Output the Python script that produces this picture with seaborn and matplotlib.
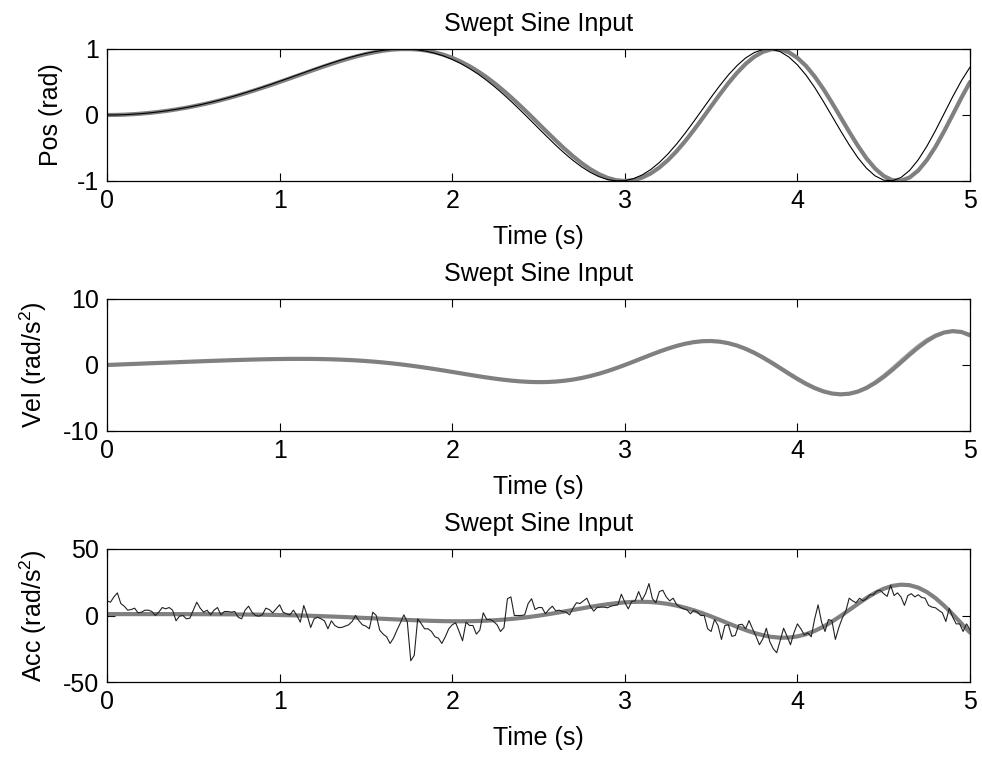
import numpy as np
import pandas as pd
import matplotlib
matplotlib.use("Agg")
import matplotlib.pyplot as plt
import seaborn as sns

# ---------------- data ----------------
t_s = np.linspace(0, 5, 101)     # 0.05 s grid for the smooth curves
t_n = np.linspace(0, 5, 251)     # 0.02 s grid for the measured acceleration

pos_ref = [0.000, 0.001, 0.005, 0.012, 0.021, 0.033, 0.047, 0.064, 0.084, 0.106,
           0.131, 0.158, 0.187, 0.219, 0.254, 0.290, 0.329, 0.369, 0.412, 0.455,
           0.500, 0.546, 0.592, 0.638, 0.685, 0.730, 0.774, 0.816, 0.855, 0.892,
           0.924, 0.951, 0.974, 0.990, 0.998, 0.999, 0.992, 0.976, 0.949, 0.913,
           0.866, 0.808, 0.740, 0.660, 0.571, 0.471, 0.363, 0.247, 0.125, -0.001,
           -0.131, -0.260, -0.387, -0.510, -0.625, -0.730, -0.821, -0.896, -0.953, -0.988,
           -1.000, -0.987, -0.949, -0.886, -0.796, -0.684, -0.549, -0.396, -0.228, -0.051,
           0.131, 0.310, 0.482, 0.638, 0.774, 0.882, 0.957, 0.996, 0.994, 0.951,
           0.866, 0.743, 0.584, 0.396, 0.187, -0.033, -0.254, -0.465, -0.655, -0.811,
           -0.924, -0.988, -0.996, -0.947, -0.842, -0.683, -0.482, -0.247, 0.005, 0.260,
           0.500]

pos_meas = [0.000, 0.001, 0.005, 0.012, 0.021, 0.033, 0.048, 0.065, 0.086, 0.108,
            0.133, 0.161, 0.191, 0.224, 0.259, 0.296, 0.336, 0.377, 0.420, 0.464,
            0.510, 0.556, 0.603, 0.650, 0.696, 0.742, 0.786, 0.828, 0.867, 0.902,
            0.933, 0.960, 0.980, 0.994, 1.000, 0.998, 0.987, 0.966, 0.936, 0.894,
            0.842, 0.779, 0.704, 0.620, 0.524, 0.419, 0.306, 0.185, 0.059, -0.070,
            -0.201, -0.331, -0.458, -0.578, -0.688, -0.786, -0.869, -0.934, -0.978, -0.998,
            -0.995, -0.965, -0.909, -0.827, -0.720, -0.590, -0.440, -0.274, -0.097, 0.086,
            0.268, 0.444, 0.607, 0.748, 0.864, 0.946, 0.992, 0.997, 0.960, 0.880,
            0.760, 0.604, 0.418, 0.207, -0.015, -0.238, -0.452, -0.646, -0.806, -0.922,
            -0.987, -0.996, -0.947, -0.840, -0.679, -0.474, -0.236, 0.021, 0.278, 0.518,
            0.725]

vel_ref = [0.000, 0.052, 0.105, 0.157, 0.209, 0.262, 0.314, 0.366, 0.417, 0.469,
           0.519, 0.569, 0.617, 0.664, 0.709, 0.752, 0.791, 0.827, 0.859, 0.886,
           0.907, 0.921, 0.928, 0.927, 0.916, 0.895, 0.863, 0.818, 0.759, 0.687,
           0.601, 0.501, 0.382, 0.250, 0.103, -0.060, -0.236, -0.425, -0.625, -0.833,
           -1.047, -1.263, -1.479, -1.691, -1.892, -2.078, -2.244, -2.384, -2.493, -2.566,
           -2.596, -2.578, -2.510, -2.387, -2.207, -1.969, -1.674, -1.323, -0.926, -0.478,
           0.000, 0.504, 1.019, 1.532, 2.026, 2.483, 2.888, 3.222, 3.466, 3.608,
           3.634, 3.534, 3.304, 2.942, 2.455, 1.851, 1.150, 0.374, -0.448, -1.284,
           -2.094, -2.840, -3.485, -3.990, -4.320, -4.448, -4.355, -4.034, -3.482, -2.728,
           -1.803, -0.737, 0.406, 1.562, 2.656, 3.634, 4.405, 4.921, 5.131, 5.005,
           4.534]

vel_meas = [0.000, 0.053, 0.106, 0.158, 0.211, 0.264, 0.317, 0.369, 0.421, 0.472,
            0.523, 0.573, 0.621, 0.668, 0.713, 0.755, 0.794, 0.829, 0.861, 0.889,
            0.913, 0.926, 0.932, 0.930, 0.917, 0.894, 0.860, 0.814, 0.755, 0.679,
            0.591, 0.489, 0.366, 0.230, 0.079, -0.087, -0.267, -0.459, -0.663, -0.874,
            -1.091, -1.312, -1.528, -1.739, -1.938, -2.122, -2.285, -2.422, -2.524, -2.588,
            -2.609, -2.579, -2.491, -2.358, -2.161, -1.910, -1.601, -1.225, -0.818, -0.358,
            0.134, 0.647, 1.168, 1.682, 2.172, 2.620, 3.008, 3.319, 3.537, 3.645,
            3.633, 3.491, 3.215, 2.808, 2.274, 1.631, 0.897, 0.095, -0.743, -1.583,
            -2.383, -3.103, -3.712, -4.154, -4.413, -4.456, -4.278, -3.863, -3.233, -2.388,
            -1.397, -0.281, 0.885, 2.039, 3.105, 4.008, 4.683, 5.075, 5.141, 4.860,
            4.234]

acc_ref = [1.047, 1.047, 1.047, 1.047, 1.046, 1.044, 1.041, 1.036, 1.029, 1.018,
           1.002, 0.982, 0.955, 0.920, 0.877, 0.823, 0.758, 0.681, 0.588, 0.482,
           0.359, 0.217, 0.058, -0.119, -0.318, -0.535, -0.771, -1.025, -1.295, -1.583,
           -1.879, -2.182, -2.495, -2.804, -3.103, -3.391, -3.656, -3.893, -4.086, -4.234,
           -4.322, -4.340, -4.283, -4.132, -3.890, -3.538, -3.082, -2.510, -1.829, -1.041,
           -0.140, 0.843, 1.903, 3.027, 4.179, 5.338, 6.461, 7.517, 8.470, 9.267,
           9.869, 10.234, 10.330, 10.127, 9.572, 8.687, 7.432, 5.835, 3.910, 1.712,
           -0.722, -3.289, -5.933, -8.515, -10.956, -13.108, -14.851, -16.092, -16.694, -16.596,
           -15.718, -14.066, -11.616, -8.440, -4.646, -0.393, 4.137, 8.722, 13.114, 16.998,
           20.117, 22.268, 23.199, 22.791, 20.961, 17.664, 13.096, 7.386, 0.916, -5.975,
           -12.801]

acc_meas = [11, 10, 14, 17, 9, 7, 4, 4.5, 5.5, 2,
            2.5, 4, 4, 3, 0, 2.5, 6, 5, 6, 4,
            -4, -0.5, 0, -2.5, -2, 4, 10, 5.5, 2.5, 4,
            0.5, 4, 6, 0.5, 3, 3, 2.5, 3, -1.3, -2.5,
            4, 7, 2.5, 0, -0.5, 0.5, 5.5, 4.5, 2, 5,
            8,
            2.5, 1.3, 0.5, 4, 0, -5, 7.5, 0, -9, -2.5,
            -1.3, -2.5, -4, -10, -4, -7.5, -9, -9, -8, -7,
            -4.5, 0, -4, -7, -8, -10, 2.5, 0, -11, -14,
            -16, -21, -17, -11, -5.5, 0.5, -5, -34, -30, -2.5,
            -6, -10, -10, -12, -16, -17, -21, -16, -10, -7,
            -5.5, -12, -19, -5, -7.5, -7.5, -14, -11, 2, -3,
            -3, -4.5, -7, -12, -9, 12.6, 14, 0, 0, 0,
            0.5, 9, 12.6, 4.5, 6, 6, 1.3, 4.5, 7, 3.5,
            4, 3, 2.5, 0.5, 5.5, 9.6, 9, 11, 13, 7,
            3.3, 6, 6.3, 6.3, 5.8, 7, 7.6, 8, 16, 10,
            5, 10.6, 11, 18, 11.6, 16.4, 24, 12.6, 9.6, 18,
            19, 14, 11, 13, 8.3, 6.3, 5, 4.3, 1.3, 3.8,
            2.5, 0, 0, -10, -12, -3, -7.5, -18, -7.5, -7,
            -15.6, -15, -7, -6.6, -10, -3.8, -10, -15.6, -22, -17.5,
            -9.6, -19.7, -25, -28, -19, -9.6, -15.6, -22, -13, -6.3,
            -10, -14.6, -13, -16, -2.5, 8, -5, -12, -3, -4,
            -18, -9, -2, 3, 13, 11, 9.6, 13, 11, 12.6,
            15.6, 15.6, 18.4, 19, 16.4, 14.4, 22.7, 15, 17, 14,
            7.6, 15, 16.4, 14, 15.6, 13.6, 13, 7.6, 6.3, 5.8,
            3.8, 2, -4.5, 5.5, -1.3, -6.3, -6.3, -12, -6.3, -10.6]

x_ticks = [0, 1, 2, 3, 4, 5]
title_text = "Swept Sine Input"
xlabel_text = "Time (s)"
ylabels = ["Pos (rad)", "Vel (rad/s$^2$)", "Acc (rad/s$^2$)"]
ylims = [(-1, 1), (-10, 10), (-50, 50)]
yticks = [[-1, 0, 1], [-10, 0, 10], [-50, 0, 50]]

df_s = pd.DataFrame({"t": t_s, "pos_ref": pos_ref, "pos_meas": pos_meas,
                     "vel_ref": vel_ref, "vel_meas": vel_meas, "acc_ref": acc_ref})
df_n = pd.DataFrame({"t": t_n, "acc_meas": acc_meas})

# ---------------- style ----------------
sns.set_style("ticks")
plt.rcParams["font.family"] = ["Liberation Sans", "DejaVu Sans"]
plt.rcParams["axes.unicode_minus"] = False
plt.rcParams["mathtext.fontset"] = "custom"
plt.rcParams["mathtext.rm"] = "Liberation Sans"
plt.rcParams["mathtext.it"] = "Liberation Sans:italic"
plt.rcParams["mathtext.bf"] = "Liberation Sans:bold"
plt.rcParams["text.color"] = "black"
plt.rcParams["axes.labelcolor"] = "black"
plt.rcParams["xtick.color"] = "black"
plt.rcParams["ytick.color"] = "black"

FS = 18
GRAY = "#808080"
LIGHT = "#b4b4b4"

fig = plt.figure(figsize=(9.82, 7.58), dpi=100)
W, H = 982.0, 758.0
rects = [(107, 49, 970, 181), (107, 299, 970, 431), (107, 549, 970, 682)]
axes = [fig.add_axes([l / W, 1 - b / H, (r - l) / W, (b - t) / H]) for (l, t, r, b) in rects]

# Position
ax = axes[0]
sns.lineplot(data=df_s, x="t", y="pos_ref", ax=ax, color=GRAY, lw=3.0, estimator=None, legend=False)
sns.lineplot(data=df_s, x="t", y="pos_meas", ax=ax, color="black", lw=0.8, estimator=None, legend=False)

# Velocity
ax = axes[1]
sns.lineplot(data=df_s, x="t", y="vel_meas", ax=ax, color=LIGHT, lw=0.9, estimator=None, legend=False)
sns.lineplot(data=df_s, x="t", y="vel_ref", ax=ax, color=GRAY, lw=3.0, estimator=None, legend=False)

# Acceleration
ax = axes[2]
sns.lineplot(data=df_s, x="t", y="acc_ref", ax=ax, color=GRAY, lw=3.0, estimator=None, legend=False)
sns.lineplot(data=df_n, x="t", y="acc_meas", ax=ax, color="#222222", lw=0.8, estimator=None, legend=False)

for ax, yl, lim, yt in zip(axes, ylabels, ylims, yticks):
    ax.set_xlim(0, 5)
    ax.set_ylim(*lim)
    ax.set_xticks(x_ticks)
    ax.set_yticks(yt)
    ax.set_xticklabels([str(v) for v in x_ticks])
    ax.set_yticklabels([str(v) for v in yt])
    ax.tick_params(direction="in", top=True, right=True, length=6, width=0.8,
                   labelsize=FS, pad=6, colors="black")
    for s in ax.spines.values():
        s.set_visible(True)
        s.set_color("black")
        s.set_linewidth(0.9)
    ax.set_title(title_text, fontsize=FS, pad=13, color="black")
    ax.set_xlabel(xlabel_text, fontsize=FS, color="black")
    ax.xaxis.set_label_coords(0.5, -0.33)
    ax.set_ylabel(yl, fontsize=FS, labelpad=10, color="black")
    ax.grid(False)

fig.savefig("out.png", dpi=100, facecolor="white")
